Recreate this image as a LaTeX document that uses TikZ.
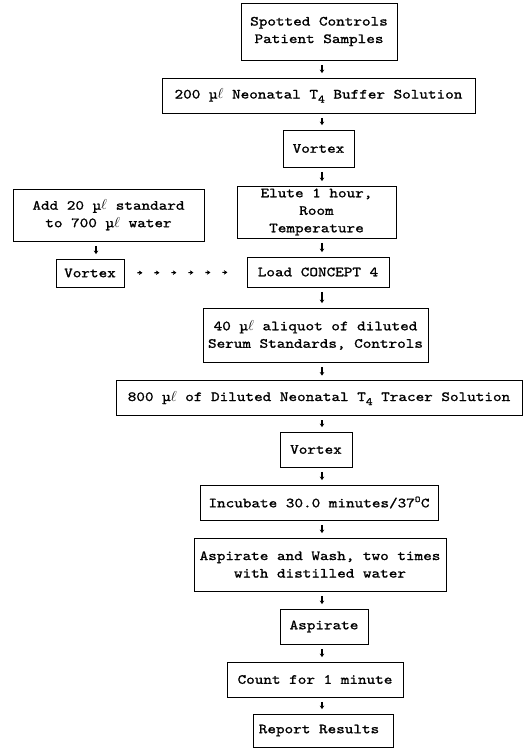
\documentclass[tikz,border=0pt]{standalone}
\usepackage{fontspec}
\usetikzlibrary{positioning}
\usetikzlibrary{arrows.meta}
\usetikzlibrary{decorations.markings}
\newfontfamily\typewriter[FakeStretch=1.17,FakeBold=1.2]{lmmono10-regular.otf}
\newcommand{\ul}{µ$\ell$}
\newcommand{\tfour}{T\raisebox{-4pt}{\fontsize{11}{11}\selectfont 4}}
\tikzset{
    mybox/.style = {draw=black, line width=0.8pt, align=center, inner sep=0pt,
        font=\typewriter\fontsize{14}{17.5}\selectfont, text=black},
    myarrow/.style = {-{Stealth[length=3.5pt,width=4.5pt]}, line width=1.1pt, shorten <=4.5pt, shorten >=4.5pt},
    mydots/.style = {postaction={decorate}, decoration={markings,
        mark=between positions 18pt and 104pt step 17pt with
        {\draw[line width=1.1pt] (-5pt,0) -- (-1pt,0); \arrow{Stealth[length=3.5pt,width=4.5pt]}}}}, % side branch
}

\begin{document}
\begin{tikzpicture}[x=1pt, y=-1pt]
  \useasboundingbox (0,0) rectangle (526,748);
  \coordinate (axis) at (322,0);

  % main column
  \node[mybox, minimum width=156, minimum height=57] (spotted) at (319,31.5) {Spotted Controls\\Patient Samples};
  \node[mybox, minimum width=313, minimum height=35] (buffer) at (318.5,95.5) {200 \ul{} Neonatal \tfour{} Buffer Solution};
  \node[mybox, minimum width=71, minimum height=37] (vortexa) at (318.5,148.5) {Vortex};
  \node[mybox, minimum width=159, minimum height=52] (elute) at (316.5,212) {Elute 1 hour,\\Room\\Temperature};
  \node[mybox, minimum width=142, minimum height=30] (load) at (318,272) {Load CONCEPT 4};
  \node[mybox, minimum width=225, minimum height=54] (aliquot) at (315.5,335) {40 \ul{} aliquot of diluted\\Serum Standards, Controls};
  \node[mybox, minimum width=406, minimum height=35] (tracer) at (319,398) {800 \ul{} of Diluted Neonatal \tfour{} Tracer Solution};
  \node[mybox, minimum width=72, minimum height=35] (vortexc) at (316,449.5) {Vortex};
  \node[mybox, minimum width=238, minimum height=35] (incubate) at (319,502.5) {Incubate 30.0 minutes/37\textsuperscript{\fontsize{9}{9}\selectfont O}C};
  \node[mybox, minimum width=252, minimum height=53] (wash) at (320,564.5) {Aspirate and Wash, two times\\with distilled water};
  \node[mybox, minimum width=88, minimum height=35] (aspirate) at (324,626.5) {Aspirate};
  \node[mybox, minimum width=176, minimum height=35] (count) at (315,679.5) {Count for 1 minute};
  \node[mybox, minimum width=140, minimum height=33] (report) at (323,730.5) {Report Results\hspace*{8pt}};

  % standard dilution
  \node[mybox, minimum width=191, minimum height=52] (add) at (108.5,215) {Add 20 \ul{} standard\\to 700 \ul{} water};
  \node[mybox, minimum width=68, minimum height=28] (vortexb) at (90,273) {Vortex};

  \foreach \a/\b in {spotted/buffer, buffer/vortexa, vortexa/elute, elute/load, load/aliquot,
      aliquot/tracer, tracer/vortexc, vortexc/incubate, incubate/wash, wash/aspirate,
      aspirate/count, count/report}
    \draw[myarrow] (\a.south -| axis) -- (\b.north -| axis);
  \draw[myarrow] (add.south -| 96,0) -- (vortexb.north -| 96,0);
  \path[mydots] (vortexb) -- (load);

\end{tikzpicture}
\end{document}
